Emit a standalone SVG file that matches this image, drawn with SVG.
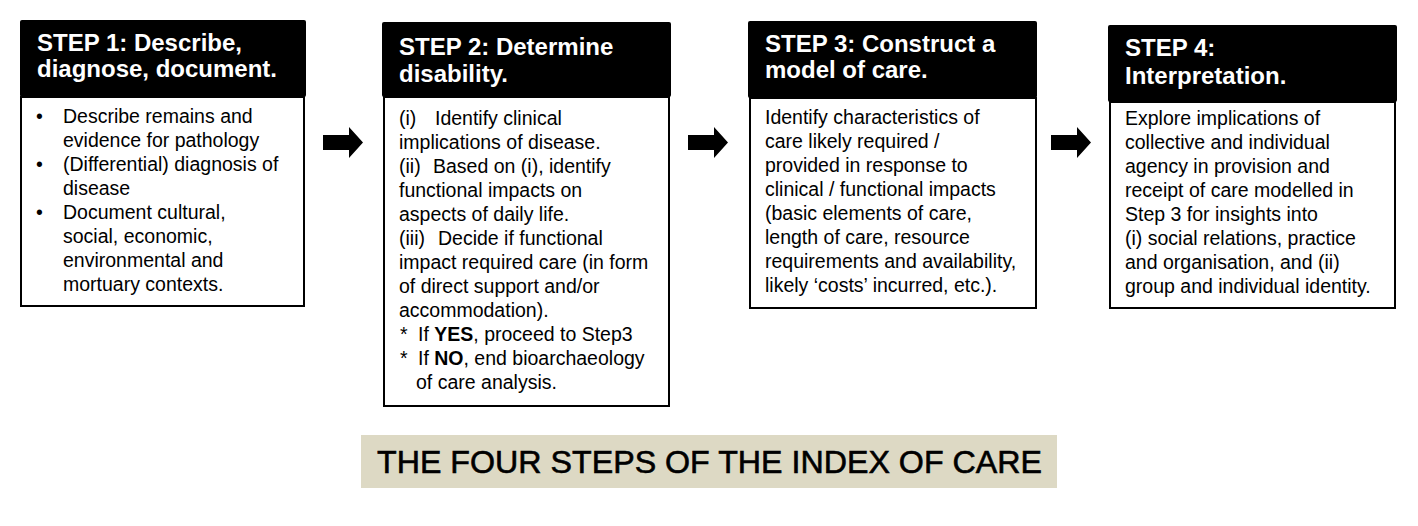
<svg xmlns="http://www.w3.org/2000/svg" width="1418" height="526" viewBox="0 0 1418 526">
<defs>
<style>
.hd{fill:#000;}
.bd{fill:#fff;stroke:#000;stroke-width:2;}
.ht{font-family:"Liberation Sans",Arial,sans-serif;font-size:24px;font-weight:bold;fill:#fff;}
.bt{font-family:"Liberation Sans",Arial,sans-serif;font-size:19.5px;fill:#000;white-space:pre;}
.ar{fill:#000;}
.tt{font-family:"Liberation Sans",Arial,sans-serif;font-size:32px;fill:#000;stroke:#000;stroke-width:0.6;}
</style>
<path id="arrow" d="M0,8 H26 V0 L40,15.5 L26,31 V23 H0 Z"/>
</defs>
<rect width="1418" height="526" fill="#fff"/>

<g id="step1">
<rect class="bd" x="21" y="97" width="283" height="209"/>
<rect class="hd" x="20" y="20" width="286" height="77" rx="2"/>
<text class="ht" x="37" y="51">STEP 1: Describe,</text>
<text class="ht" x="37" y="77">diagnose, document.</text>
<g class="bt">
<text x="36" y="123">•</text><text x="63" y="123">Describe remains  and</text>
<text x="63" y="147">evidence  for pathology</text>
<text x="36" y="171">•</text><text x="63" y="171">(Differential) diagnosis  of</text>
<text x="63" y="195">disease</text>
<text x="36" y="219">•</text><text x="63" y="219">Document  cultural,</text>
<text x="63" y="243">social, economic,</text>
<text x="63" y="267">environmental  and</text>
<text x="63" y="291">mortuary contexts.</text>
</g>
</g>

<g id="step2">
<rect class="bd" x="384" y="97" width="285" height="309"/>
<rect class="hd" x="382" y="22" width="289" height="75" rx="2"/>
<text class="ht" x="399" y="55">STEP 2: Determine</text>
<text class="ht" x="399" y="82">disability.</text>
<g class="bt">
<text x="399" y="125">(i)</text><text x="435" y="125">Identify clinical</text>
<text x="399" y="149">implications  of disease.</text>
<text x="399" y="173">(ii)</text><text x="433" y="173">Based on  (i), identify</text>
<text x="399" y="197">functional  impacts on</text>
<text x="399" y="221">aspects of daily life.</text>
<text x="399" y="245">(iii)</text><text x="438" y="245">Decide  if functional</text>
<text x="399" y="269">impact required care (in form</text>
<text x="399" y="293">of direct support and/or</text>
<text x="399" y="317">accommodation).</text>
<text x="400" y="341">*</text><text x="418" y="341">If <tspan font-weight="bold">YES</tspan>, proceed to Step3</text>
<text x="400" y="365">*</text><text x="418" y="365">If <tspan font-weight="bold">NO</tspan>, end bioarchaeology</text>
<text x="416" y="389">of care analysis.</text>
</g>
</g>

<g id="step3">
<rect class="bd" x="750" y="98" width="286" height="210"/>
<rect class="hd" x="748" y="21" width="289" height="77" rx="2"/>
<text class="ht" x="765" y="52">STEP 3: Construct a</text>
<text class="ht" x="765" y="78">model of care.</text>
<g class="bt">
<text x="765" y="124">Identify characteristics of</text>
<text x="765" y="148">care likely required /</text>
<text x="765" y="172">provided in response to</text>
<text x="765" y="196">clinical / functional impacts</text>
<text x="765" y="220">(basic elements of care,</text>
<text x="765" y="244">length of care, resource</text>
<text x="765" y="268">requirements and availability,</text>
<text x="765" y="292">likely ‘costs’ incurred, etc.).</text>
</g>
</g>

<g id="step4">
<rect class="bd" x="1110" y="102" width="285" height="206"/>
<rect class="hd" x="1108" y="25" width="289" height="77" rx="2"/>
<text class="ht" x="1125" y="56">STEP 4:</text>
<text class="ht" x="1125" y="84">Interpretation.</text>
<g class="bt">
<text x="1125" y="125">Explore implications  of</text>
<text x="1125" y="149">collective and individual</text>
<text x="1125" y="173">agency in provision and</text>
<text x="1125" y="197">receipt of care modelled in</text>
<text x="1125" y="221">Step 3 for insights into</text>
<text x="1125" y="245">(i) social relations, practice</text>
<text x="1125" y="269">and organisation, and (ii)</text>
<text x="1125" y="293">group and individual  identity.</text>
</g>
</g>

<g id="connectors">
<use href="#arrow" class="ar" x="323" y="127"/>
<use href="#arrow" class="ar" x="688" y="127"/>
<use href="#arrow" class="ar" x="1051" y="127"/>
</g>

<g id="title">
<rect x="361" y="435" width="696" height="53" fill="#DDD9C4"/>
<text class="tt" x="377" y="473" textLength="665" lengthAdjust="spacingAndGlyphs">THE FOUR STEPS OF THE INDEX OF CARE</text>
</g>
</svg>
